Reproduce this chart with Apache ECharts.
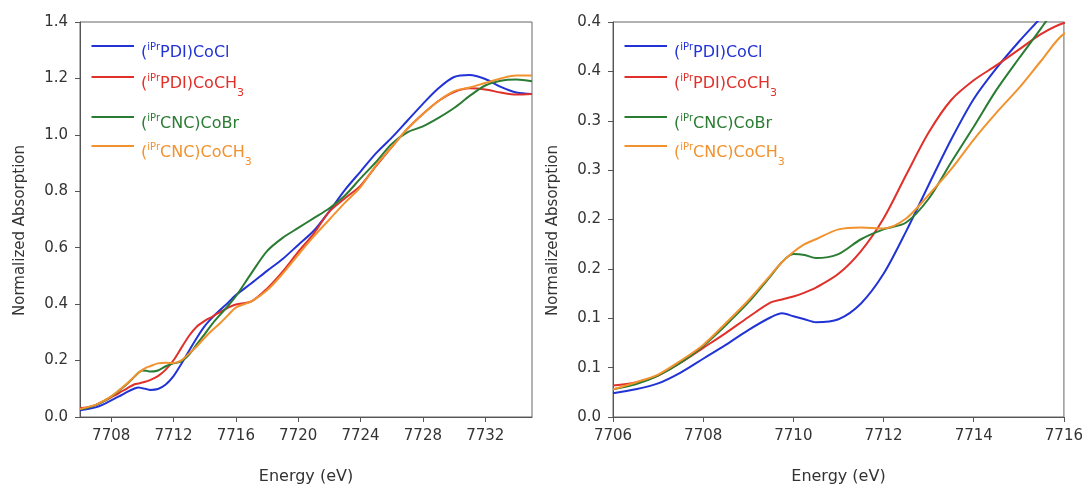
<!DOCTYPE html>
<html>
<head>
<meta charset="utf-8">
<script src="https://cdn.jsdelivr.net/npm/echarts@6/dist/echarts.min.js"></script>
<style>
html, body { margin: 0; padding: 0; background: #fff; }
#chart { width: 1086px; height: 490px; }
</style>
</head>
<body>
<div id="chart"></div>
<script>
// energies shared by all four spectra (eV)
const energy = [7706, 7706.5, 7707, 7707.5, 7708, 7708.5, 7709, 7709.5, 7709.75, 7710, 7710.25, 7710.5,
  7711, 7711.5, 7712, 7712.5, 7713, 7713.5, 7714, 7714.5, 7715, 7715.5, 7716,
  7717, 7718, 7719, 7720, 7721, 7722, 7723, 7724, 7725, 7726, 7727, 7728, 7729,
  7730, 7731, 7732, 7733, 7734, 7735]

const pdiCoCl = [0.024, 0.028, 0.034, 0.045, 0.059, 0.073, 0.088, 0.101, 0.105, 0.102, 0.099, 0.096,
  0.099, 0.115, 0.145, 0.188, 0.235, 0.281, 0.322, 0.353, 0.380, 0.405, 0.432,
  0.474, 0.518, 0.56, 0.61, 0.66, 0.73, 0.805, 0.87, 0.935, 0.99, 1.05, 1.11, 1.165,
  1.205, 1.212, 1.198, 1.17, 1.15, 1.145]
const pdiCoMe = [0.032, 0.035, 0.042, 0.055, 0.070, 0.085, 0.101, 0.116, 0.119, 0.122, 0.126, 0.131,
  0.145, 0.168, 0.201, 0.245, 0.288, 0.321, 0.341, 0.356, 0.372, 0.388, 0.399,
  0.41, 0.455, 0.515, 0.585, 0.65, 0.728, 0.775, 0.82, 0.89, 0.957, 1.021, 1.074, 1.12,
  1.152, 1.165, 1.161, 1.15, 1.143, 1.145]
const cncCoBr = [0.028, 0.033, 0.042, 0.055, 0.072, 0.093, 0.116, 0.143, 0.157, 0.165, 0.164, 0.161,
  0.165, 0.180, 0.190, 0.197, 0.221, 0.258, 0.294, 0.331, 0.363, 0.394, 0.428,
  0.51, 0.588, 0.635, 0.67, 0.705, 0.74, 0.785, 0.846, 0.904, 0.968, 1.009, 1.03, 1.06,
  1.095, 1.138, 1.175, 1.192, 1.196, 1.19]
const cncCoMe = [0.028, 0.035, 0.043, 0.057, 0.073, 0.095, 0.118, 0.144, 0.157, 0.167, 0.175, 0.180,
  0.190, 0.192, 0.191, 0.201, 0.225, 0.251, 0.281, 0.308, 0.333, 0.361, 0.388,
  0.41, 0.449, 0.508, 0.575, 0.64, 0.70, 0.76, 0.815, 0.893, 0.957, 1.021, 1.074, 1.12,
  1.155, 1.168, 1.184, 1.2, 1.21, 1.21]

const seriesNames = ['(iPrPDI)CoCl', '(iPrPDI)CoCH3', '(iPrCNC)CoBr', '(iPrCNC)CoCH3']
const seriesValues = [pdiCoCl, pdiCoMe, cncCoBr, cncCoMe]
const colors = ['#2233d6', '#e0302a', '#2a7c33', '#f2922f']
// legend label pieces: superscript, main text, subscript
const legendParts = [['iPr', 'PDI)CoCl', ''], ['iPr', 'PDI)CoCH', '3'],
  ['iPr', 'CNC)CoBr', ''], ['iPr', 'CNC)CoCH', '3']]
const legendRowY = [24, 55, 95, 124]

const leftXTicks = [7708, 7712, 7716, 7720, 7724, 7728, 7732]
const rightXTicks = [7706, 7708, 7710, 7712, 7714, 7716]
const rightYTickLabels = ['0.0', '0.1', '0.1', '0.2', '0.2', '0.3', '0.3', '0.4', '0.4']

const FONT = '"DejaVu Sans", sans-serif'
const grids = [
  {left: 80, top: 22, width: 452, height: 400},
  {left: 613, top: 22, width: 451, height: 400}
]

const ctx = document.createElement('canvas').getContext('2d')
const textWidth = (t, size) => {
  ctx.font = size + 'px "DejaVu Sans"'
  return ctx.measureText(t).width
}

const txt = (t, x, y, size, color) => ({
  type: 'text', x: x, y: y, silent: true,
  style: {text: t, fill: color, fontSize: size, fontFamily: FONT, verticalAlign: 'middle', align: 'left'}
})

const legendFor = (g) => {
  let els = []
  seriesNames.forEach((n, i) => {
    const ly = g.top + legendRowY[i]
    els.push({type: 'line', silent: true,
      shape: {x1: g.left + 11.5, y1: ly, x2: g.left + 54, y2: ly},
      style: {stroke: colors[i], lineWidth: 2}})
    const cy = ly + 7
    const p = legendParts[i]
    let x = g.left + 61
    els.push(txt('(', x, cy, 16, colors[i])); x += textWidth('(', 16)
    els.push(txt(p[0], x, cy - 6, 10, colors[i])); x += textWidth(p[0], 10)
    els.push(txt(p[1], x, cy, 16, colors[i])); x += textWidth(p[1], 16)
    if (p[2]) els.push(txt(p[2], x, cy + 9.5, 11, colors[i]))
  })
  return els
}

const axisCommon = {
  axisLine: {show: true, lineStyle: {color: '#555', width: 1}},
  axisTick: {show: true, inside: false, length: 5, lineStyle: {color: '#555'}},
  splitLine: {show: false},
  nameLocation: 'middle'
}

const xAx = (gi, ticks, mn, mx) => Object.assign({}, axisCommon, {
  type: 'value', gridIndex: gi, min: mn, max: mx,
  name: 'Energy (eV)', nameGap: 52,
  nameTextStyle: {fontFamily: FONT, fontSize: 16, color: '#333'},
  axisTick: Object.assign({}, axisCommon.axisTick, {customValues: ticks}),
  axisLabel: {customValues: ticks, margin: 12, fontFamily: FONT, fontSize: 15, color: '#333',
    formatter: v => String(v)}
})

const yAx = (gi, mx, iv, fmt) => Object.assign({}, axisCommon, {
  type: 'value', gridIndex: gi, min: 0, max: mx, interval: iv,
  name: 'Normalized Absorption', nameGap: 52,
  nameTextStyle: {fontFamily: FONT, fontSize: 15, color: '#333', padding: [0, 22, 0, 0]},
  axisLabel: {margin: 12, fontFamily: FONT, fontSize: 15, color: '#333', formatter: fmt}
})

let series = []
grids.forEach((g, gi) => {
  seriesValues.forEach((vals, i) => {
    series.push({
      type: 'line', name: seriesNames[i], xAxisIndex: gi, yAxisIndex: gi,
      data: energy.map((e, k) => [e, vals[k]]),
      showSymbol: false, smooth: 0.3, clip: true, silent: true,
      lineStyle: {color: colors[i], width: 2}
    })
  })
})

const chart = echarts.init(document.getElementById('chart'), null, {renderer: 'canvas'})
chart.setOption({
  animation: false,
  backgroundColor: '#fff',
  grid: grids.map(g => Object.assign({show: true, borderColor: '#666', borderWidth: 1}, g)),
  xAxis: [xAx(0, leftXTicks, 7706, 7735), xAx(1, rightXTicks, 7706, 7716)],
  yAxis: [
    yAx(0, 1.4, 0.2, v => v.toFixed(1)),
    yAx(1, 0.4, 0.05, v => rightYTickLabels[Math.round(v / 0.05)])
  ],
  series: series,
  graphic: legendFor(grids[0]).concat(legendFor(grids[1]))
})
</script>
</body>
</html>
